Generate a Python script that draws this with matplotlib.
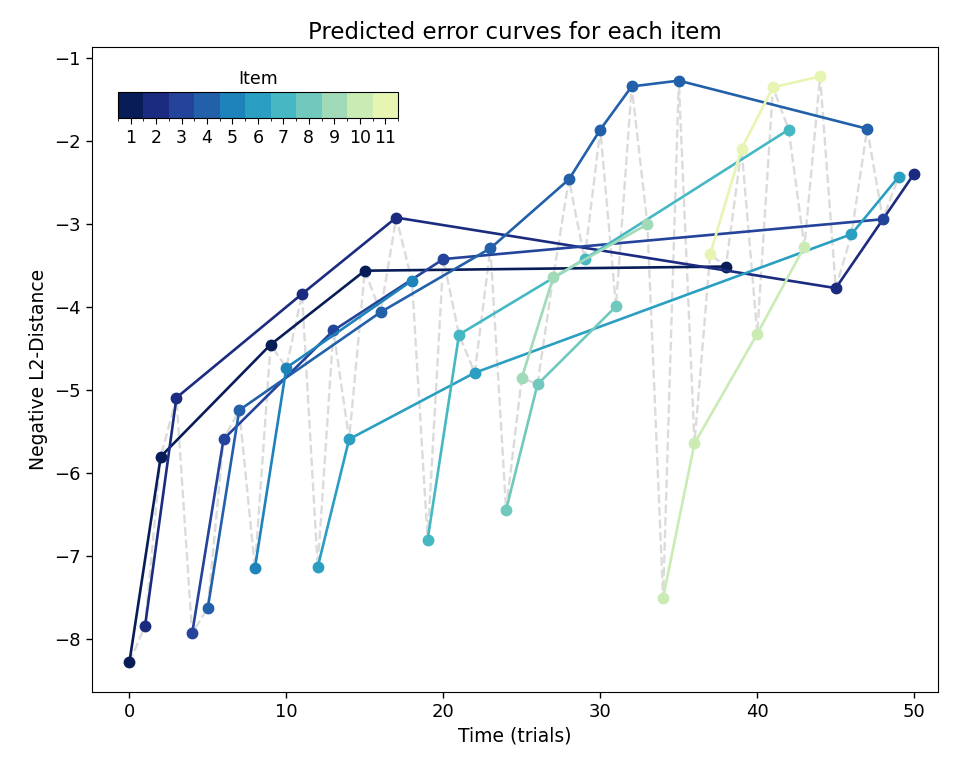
import numpy as np
import matplotlib
matplotlib.use("Agg")
import matplotlib.pyplot as plt
from matplotlib.colors import ListedColormap, BoundaryNorm
import matplotlib as mpl

# trial index, item shown at that trial, predicted value
trials = list(range(51))
items = [1, 2, 1, 2, 3, 4, 3, 4, 5, 1,
         5, 2, 6, 3, 6, 1, 4, 2, 5, 7,
         3, 7, 6, 4, 8, 9, 8, 9, 4, 7,
         4, 8, 4, 9, 10, 4, 10, 11, 1, 11,
         10, 11, 7, 10, 11, 2, 6, 4, 3, 6,
         2]
values = [-8.28, -7.84, -5.80, -5.09, -7.93, -7.62, -5.59, -5.24, -7.14, -4.45,
          -4.73, -3.84, -7.13, -4.28, -5.59, -3.56, -4.06, -2.92, -3.68, -6.80,
          -3.42, -4.33, -4.79, -3.29, -6.44, -4.85, -4.93, -3.64, -2.46, -3.42,
          -1.86, -3.99, -1.34, -3.00, -7.50, -1.27, -5.64, -3.36, -3.51, -2.09,
          -4.32, -1.35, -1.86, -3.27, -1.22, -3.77, -3.12, -1.85, -2.94, -2.43,
          -2.39]
item_ids = list(range(1, 12))

colors = plt.cm.YlGnBu_r(np.linspace(0, 0.85, len(item_ids)))

fig = plt.figure(figsize=(9.55, 7.61), dpi=100)
ax = fig.add_axes([0.096, 0.091, 0.886, 0.847])

# all predictions in time order
ax.plot(trials, values, '--', color='lightgray', alpha=0.8, lw=1.7, zorder=1)

t_arr = np.array(trials)
v_arr = np.array(values)
i_arr = np.array(items)
for k, it in enumerate(item_ids):
    m = i_arr == it
    ax.plot(t_arr[m], v_arr[m], '-o', color=colors[k], lw=1.9, ms=7.5, zorder=2)

ax.set_xlim(-2.4, 51.5)
ax.set_title("Predicted error curves for each item", fontsize=16.5)
ax.set_xlabel("Time (trials)", fontsize=13.5)
ax.set_ylabel("Negative L2-Distance", fontsize=13.5)
ax.tick_params(labelsize=13, length=4.5, width=1)

# discrete colour bar for the items
cmap = ListedColormap(colors)
norm = BoundaryNorm(np.arange(0.5, 12.5, 1), cmap.N)
cax = ax.inset_axes([0.031, 0.890, 0.331, 0.040])
cb = mpl.colorbar.ColorbarBase(cax, cmap=cmap, norm=norm, orientation='horizontal', ticks=item_ids)
cb.ax.tick_params(labelsize=12.5, length=4.5)
cb.ax.set_title("Item", fontsize=12.5)

fig.savefig("out.png", dpi=100)
